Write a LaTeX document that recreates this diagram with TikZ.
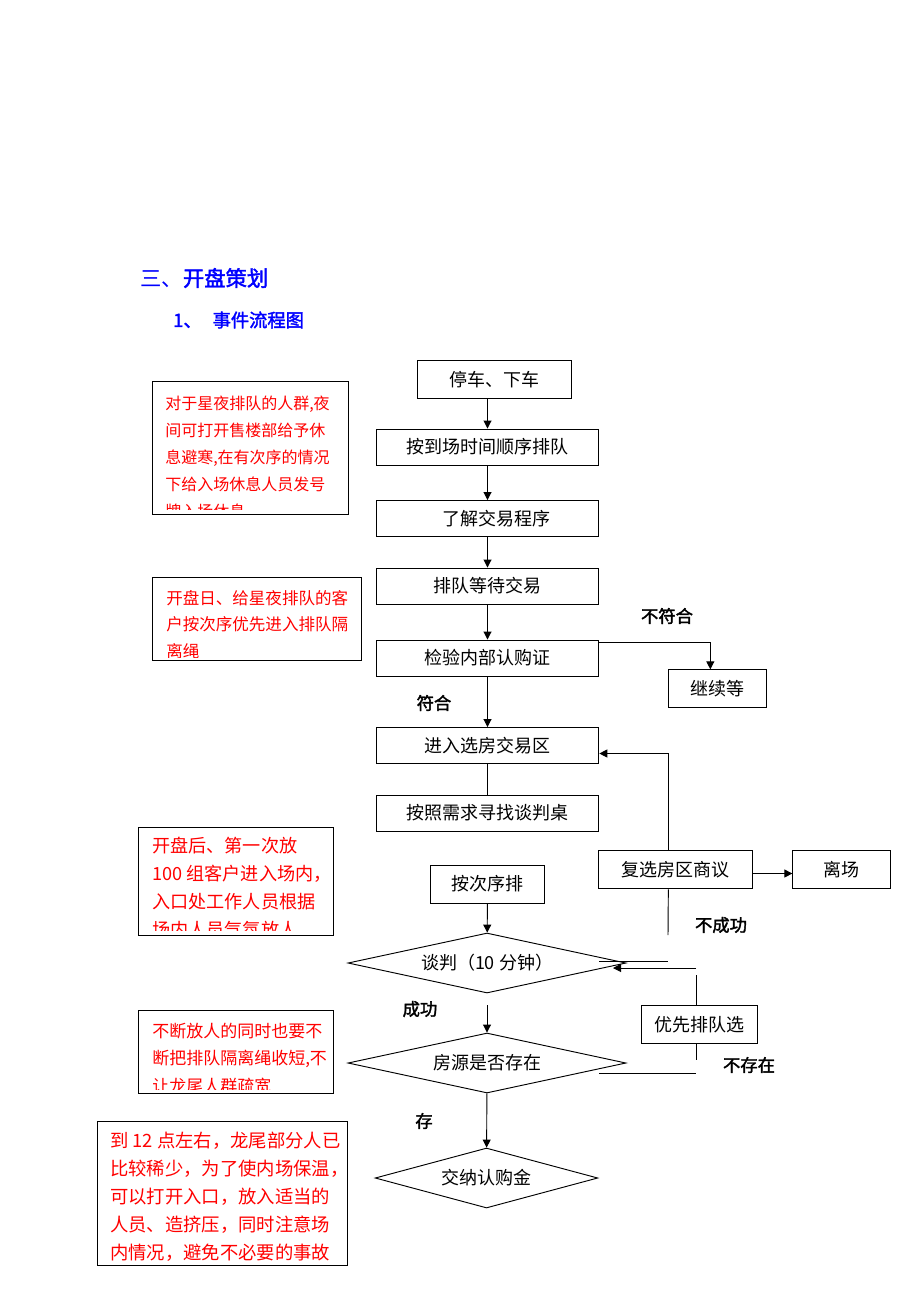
\documentclass[tikz,border=0pt]{standalone}
\usepackage{fontspec}
\usetikzlibrary{shapes.geometric,arrows.meta}
\setmainfont{Noto Sans CJK SC}
\newfontfamily\cjkbf[FakeBold=2]{Noto Sans CJK SC}
\begin{document}
\begin{tikzpicture}[x=0.75pt,y=-0.75pt,
    box/.style={draw,line width=0.7pt,rectangle,inner sep=0pt,font=\fontsize{13.5}{16}\selectfont},
    wide/.style={box,minimum width=167pt,minimum height=27pt},
    choice/.style={draw,line width=0.7pt,diamond,aspect=4.6,inner sep=0pt,font=\fontsize{13.5}{16}\selectfont},
    note/.style={draw,line width=0.7pt,rectangle,inner sep=0pt},
    notetext/.style={text=red,align=left,inner sep=0pt,anchor=north west},
    tag/.style={font=\cjkbf\fontsize{13}{16}\selectfont},
    arr/.style={line width=0.7pt,-{Triangle[length=6pt,width=6pt]}},
    link/.style={line width=0.7pt}]
  \useasboundingbox (0,0) rectangle (920,1302);

  \node[anchor=west,text=blue,inner sep=0pt,font=\fontsize{16}{18}\selectfont] (part) at (140,278) {三、{\cjkbf 开盘策划}};
  \node[anchor=west,text=blue,inner sep=0pt,font=\cjkbf\fontsize{13.7}{16}\selectfont] (chart) at (173,320) {1、\hspace{0.6em}事件流程图};

  \node[box,minimum width=115pt,minimum height=28pt] (stop) at (494.5,379.5) {停车、下车};
  \node[wide] (line) at (487.5,447) {按到场时间顺序排队};
  \node[wide] (learn) at (487.5,518.5) {\hspace{1em}了解交易程序};
  \node[wide] (wait) at (487.5,586) {排队等待交易};
  \node[wide] (check) at (487.5,658) {检验内部认购证};
  \node[box,minimum width=73.5pt,minimum height=28pt] (hold) at (717,688.5) {继续等};
  \node[wide] (enter) at (487.5,745.5) {进入选房交易区};
  \node[wide] (seek) at (487.5,813) {按照需求寻找谈判桌};
  \node[box,minimum width=85pt,minimum height=28.5pt] (order) at (487.5,884) {按次序排\hspace{0.8em}};
  \node[choice,minimum width=208.5pt,minimum height=45pt] (talk) at (487,963) {谈判（10 分钟）};
  \node[choice,minimum width=208.5pt,minimum height=45pt] (exist) at (487,1063) {房源是否存在};
  \node[choice,minimum width=167pt,minimum height=45pt] (pay) at (486.5,1178) {交纳认购金};
  \node[box,minimum width=115.5pt,minimum height=29pt] (resel) at (675,869.5) {复选房区商议};
  \node[box,minimum width=73pt,minimum height=29pt] (leave) at (841.5,869.5) {离场};
  \node[box,minimum width=87pt,minimum height=29pt] (prior) at (699,1024.5) {优先排队选};

  \draw[arr] (stop.south -| line.south) -- (line.north);
  \draw[arr] (line) -- (learn);
  \draw[arr] (learn) -- (wait);
  \draw[arr] (wait) -- (check);
  \draw[arr] (check) -- (enter);
  \draw[link] (enter) -- (seek);
  \draw[arr] (order) -- (talk);
  \draw[arr,shorten <=9pt] (talk) -- (exist);
  \draw[arr] (exist) -- (pay);
  \draw[arr] ([yshift=-2pt]check.north east) -| ([xshift=-5pt]hold.north);
  \draw[arr] ([xshift=-5pt]resel.north) |- ([yshift=-6pt]enter.east);
  \draw[arr] ([yshift=-3pt]resel.east) -- ([yshift=-3pt]leave.west);
  \coordinate (fail) at (668,935);
  \draw[link] ([xshift=-5pt]resel.south) -- (fail);
  \coordinate (tk1) at (599,961);
  \coordinate (tk2) at (668,961);
  \draw[link] (tk1) -- (tk2);
  \coordinate (back) at (696,968);
  \coordinate (backtip) at (613,968);
  \draw[arr] (back) -- (backtip);
  \coordinate (ptop) at (696,975);
  \draw[link] (ptop) -- (ptop |- prior.north);
  \coordinate (pbot) at (696,1060);
  \draw[link] (prior.south -| pbot) -- (pbot);
  \coordinate (ex1) at (599,1073);
  \coordinate (ex2) at (696,1073);
  \draw[link] (ex1) -- (ex2);

  \node[tag] (nofit) at (667,616) {不符合};
  \node[tag] (fit) at (434,703) {符合};
  \node[tag] (nook) at (721,925) {不成功};
  \node[tag] (ok) at (420,1009) {成功};
  \node[tag] (none) at (749,1065) {不存在};
  \node[tag] (has) at (424,1121) {存};

  \node[note,minimum width=147pt,minimum height=99.75pt] (calm) at (250,447.5) {};
  \begin{scope}
    \clip ([yshift=4pt]calm.south west) rectangle (calm.north east);
    \node[notetext,font=\fontsize{12}{20.25}\selectfont] (calmtxt) at (165,396)
      {对于星夜排队的人群,夜\\间可打开售楼部给予休\\息避寒,在有次序的情况\\下给入场休息人员发号\\牌入场休息};
  \end{scope}
  \node[note,minimum width=156.75pt,minimum height=62.25pt] (open) at (256.5,618.5) {};
  \begin{scope}
    \clip ([yshift=2pt]open.south west) rectangle (open.north east);
    \node[notetext,font=\fontsize{12.4}{20}\selectfont] (opentxt) at (166,590)
      {开盘日、给星夜排队的客\\户按次序优先进入排队隔\\离绳};
  \end{scope}
  \node[note,minimum width=146.25pt,minimum height=81pt] (first) at (235.5,881) {};
  \begin{scope}
    \clip ([yshift=4pt]first.south west) rectangle (first.north east);
    \node[notetext,font=\fontsize{13.6}{21}\selectfont] (firsttxt) at (152,837)
      {开盘后、第一次放\\100 组客户进入场内，\\入口处工作人员根据\\场内人员气氛放人、};
  \end{scope}
  \node[note,minimum width=146.25pt,minimum height=62.25pt] (rope) at (235.5,1051.5) {};
  \begin{scope}
    \clip ([yshift=3pt]rope.south west) rectangle (rope.north east);
    \node[notetext,font=\fontsize{12.75}{20.6}\selectfont] (ropetxt) at (152,1022.5)
      {不断放人的同时也要不\\断把排队隔离绳收短,不\\让龙尾人群疏宽};
  \end{scope}
  \node[note,minimum width=187.5pt,minimum height=108pt] (noon) at (222,1193) {};
  \node[notetext,font=\fontsize{13.75}{21}\selectfont] (noontxt) at (110,1132)
    {到 12 点左右，龙尾部分人已\\比较稀少，为了使内场保温，\\可以打开入口，放入适当的\\人员、造挤压，同时注意场\\内情况，避免不必要的事故};
\end{tikzpicture}
\end{document}
